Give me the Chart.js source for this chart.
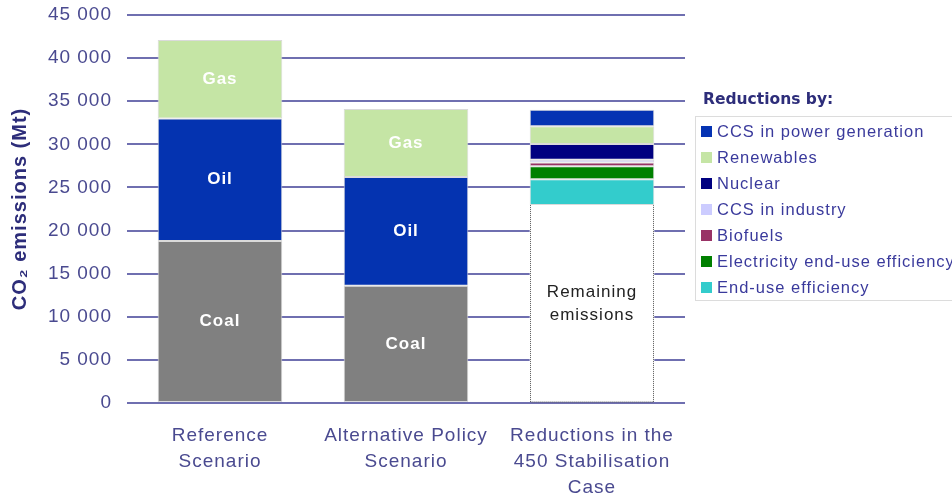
<!DOCTYPE html>
<html>
<head>
<meta charset="utf-8">
<script src="https://cdn.jsdelivr.net/npm/chart.js@4"></script>
<style>
  html, body { margin: 0; padding: 0; background: #fff; }
  #wrap { width: 952px; height: 496px; }
</style>
</head>
<body>
<div id="wrap"><canvas id="co2Chart" width="952" height="496"></canvas></div>
<script>
// ---- data (Mt CO2) ----
const categories = [
  ["Reference", "Scenario"],
  ["Alternative Policy", "Scenario"],
  ["Reductions in the", "450 Stabilisation", "Case"],
];
const coal = [18800, 13600, null];
const oil = [14200, 12600, null];
const gas = [9100, 7900, null];
const remaining = [null, null, 22950];
const endUseEff = [null, null, 3000];
const elecEndUseEff = [null, null, 1500];
const biofuels = [null, null, 450];
const ccsIndustry = [null, null, 300];
const nuclear = [null, null, 1850];
const renewables = [null, null, 2050];
const ccsPower = [null, null, 1900];
const yMax = 45000;
const yStep = 5000;

const FONT = "'Liberation Sans', Arial, sans-serif";
const colors = {
  coal: "#808080",
  oil: "#0433b0",
  gas: "#c5e5a5",
  ccsPower: "#0533b3",
  renewables: "#c5e5a5",
  nuclear: "#000080",
  ccsIndustry: "#ccccff",
  biofuels: "#993366",
  elec: "#008000",
  endUse: "#33cccc",
  tick: "#4a4a90",
  grid: "#6f6fb0",
  title: "#2d2d7a",
  legendText: "#3a3a9c",
};

// canvas letter spacing, the original text is a bit spread out
const spacing = {
  id: "spacing",
  beforeLayout(chart) { chart.ctx.letterSpacing = "1px"; },
  beforeDraw(chart) { chart.ctx.letterSpacing = "1px"; },
};

// labels inside the bar segments + dotted outline of the white bar
const segmentLabels = {
  id: "segmentLabels",
  afterDatasetsDraw(chart) {
    const ctx = chart.ctx;
    chart.data.datasets.forEach((ds, i) => {
      const meta = chart.getDatasetMeta(i);
      meta.data.forEach((bar, j) => {
        if (ds.data[j] == null) return;
        const p = bar.getProps(["x", "y", "base", "width"], true);
        const midY = (p.y + p.base) / 2;
        ctx.save();
        if (ds.dotted) {
          ctx.strokeStyle = "#555";
          ctx.lineWidth = 1;
          ctx.setLineDash([1, 1]);
          const l = Math.round(p.x - p.width / 2) + 0.5;
          const r = Math.round(p.x + p.width / 2) - 0.5;
          ctx.beginPath();
          ctx.moveTo(l, p.y);
          ctx.lineTo(l, p.base);
          ctx.lineTo(r, p.base);
          ctx.lineTo(r, p.y);
          ctx.stroke();
          ctx.setLineDash([]);
        }
        if (ds.segLabel) {
          const lines = ds.segLabel;
          ctx.font = ds.labelFont;
          ctx.fillStyle = ds.labelColor;
          ctx.textAlign = "center";
          ctx.textBaseline = "middle";
          const lh = 23;
          lines.forEach((t, k) => {
            const ty = midY + (k - (lines.length - 1) / 2) * lh;
            ctx.fillText(t, p.x, ty);
          });
        }
        ctx.restore();
      });
    });
  },
};

// boxed legend on the right, only the reduction wedges
const sideLegend = {
  id: "sideLegend",
  afterDraw(chart) {
    const ctx = chart.ctx;
    const items = chart.data.datasets.filter((d) => d.reduction).reverse();
    const left = chart.chartArea.right + 10;
    ctx.save();
    ctx.letterSpacing = "0px";
    ctx.font = "bold 15.5px 'DejaVu Sans', sans-serif";
    ctx.fillStyle = colors.title;
    ctx.textBaseline = "middle";
    ctx.fillText("Reductions by:", left + 8, 100);

    ctx.strokeStyle = "#dcdcdc";
    ctx.lineWidth = 1;
    ctx.strokeRect(left + 0.5, 116.5, 280, 184);

    ctx.letterSpacing = "1px";
    ctx.font = "16.5px " + FONT;
    items.forEach((d, k) => {
      const cy = 132 + k * 26;
      ctx.fillStyle = d.backgroundColor;
      ctx.fillRect(left + 6, cy - 6, 11, 11);
      ctx.fillStyle = colors.legendText;
      ctx.fillText(d.label, left + 22, cy);
    });
    ctx.restore();
  },
};

const fmt = (v) => String(v).replace(/\B(?=(\d{3})+(?!\d))/g, " ");

const boldLabel = "bold 17px " + FONT;

new Chart(document.getElementById("co2Chart"), {
  type: "bar",
  data: {
    labels: categories,
    datasets: [
      { label: "Coal", data: coal, backgroundColor: colors.coal, segLabel: ["Coal"], labelFont: boldLabel, labelColor: "#fff" },
      { label: "Oil", data: oil, backgroundColor: colors.oil, segLabel: ["Oil"], labelFont: boldLabel, labelColor: "#fff" },
      { label: "Gas", data: gas, backgroundColor: colors.gas, segLabel: ["Gas"], labelFont: boldLabel, labelColor: "#fff" },
      { label: "Remaining emissions", data: remaining, backgroundColor: "#fff", borderWidth: 0, dotted: true,
        segLabel: ["Remaining", "emissions"], labelFont: "17px " + FONT, labelColor: "#222" },
      { label: "End-use efficiency", data: endUseEff, backgroundColor: colors.endUse, reduction: true },
      { label: "Electricity end-use efficiency", data: elecEndUseEff, backgroundColor: colors.elec, reduction: true },
      { label: "Biofuels", data: biofuels, backgroundColor: colors.biofuels, reduction: true },
      { label: "CCS in industry", data: ccsIndustry, backgroundColor: colors.ccsIndustry, reduction: true },
      { label: "Nuclear", data: nuclear, backgroundColor: colors.nuclear, reduction: true },
      { label: "Renewables", data: renewables, backgroundColor: colors.renewables, reduction: true },
      { label: "CCS in power generation", data: ccsPower, backgroundColor: colors.ccsPower, reduction: true },
    ],
  },
  options: {
    responsive: false,
    animation: false,
    layout: { padding: { top: 15, right: 267, bottom: 0, left: 0 } },
    plugins: { legend: { display: false }, tooltip: { enabled: false } },
    datasets: {
      bar: {
        barPercentage: 0.67,
        categoryPercentage: 1,
        borderWidth: 1,
        borderColor: "#dadada",
        borderSkipped: false,
      },
    },
    scales: {
      x: {
        stacked: true,
        grid: { display: false, drawTicks: false },
        border: { display: false },
        ticks: {
          color: colors.tick,
          font: { family: FONT, size: 19, lineHeight: 1.37 },
          padding: 20,
          maxRotation: 0,
          autoSkip: false,
        },
        afterFit(s) { s.height = 93; },
      },
      y: {
        stacked: true,
        min: 0,
        max: yMax,
        ticks: {
          stepSize: yStep,
          callback: (v) => fmt(v),
          color: colors.tick,
          font: { family: FONT, size: 19 },
          padding: 15,
        },
        grid: { color: colors.grid, lineWidth: 2, drawTicks: false },
        border: { display: false },
        title: {
          display: true,
          text: "CO\u2082 emissions (Mt)",
          color: colors.title,
          font: { family: FONT, size: 20, weight: "bold" },
          padding: { top: 8, bottom: 0 },
        },
        afterFit(s) {
          s.width = 127;
          s.paddingTop = 0;
          s.paddingBottom = 0;
        },
      },
    },
  },
  plugins: [spacing, segmentLabels, sideLegend],
});
</script>
</body>
</html>
